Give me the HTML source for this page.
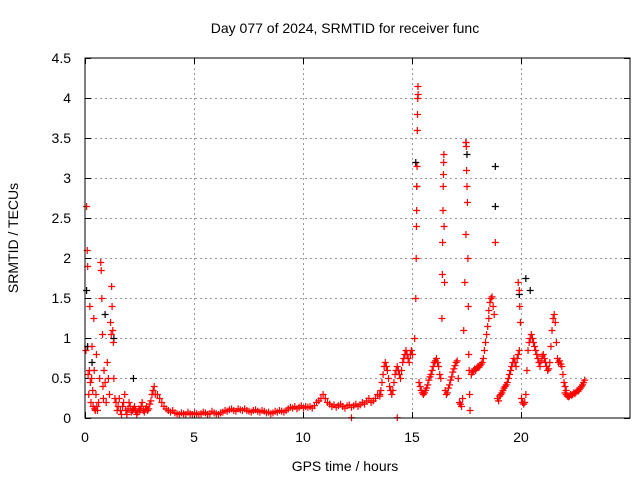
<!DOCTYPE html>
<html><head><meta charset="utf-8"><style>
body{margin:0;background:#fff}
svg text{font-family:"Liberation Sans",sans-serif;font-size:14px;fill:#000}
</style></head><body>
<svg id="chart" width="640" height="480">
<text x="345" y="33" text-anchor="middle">Day 077 of 2024, SRMTID for receiver func</text>
<text x="345" y="471" text-anchor="middle">GPS time / hours</text>
<text transform="translate(18,238) rotate(-90)" text-anchor="middle">SRMTID / TECUs</text>
<g id="grid"></g>
<g id="ticks"></g>
<g id="black"></g>
<g id="red"></g>
<rect x="85" y="58" width="545" height="360" fill="none" stroke="#000" stroke-width="1"/>
</svg>
<script>
const xTicks=[0,5,10,15,20];
const yTicks=[0,0.5,1,1.5,2,2.5,3,3.5,4,4.5];
const yTickLabels=["0","0.5","1","1.5","2","2.5","3","3.5","4","4.5"];
const hours=[0.02,0.05,0.08,0.1,0.12,0.15,0.18,0.2,0.22,0.25,0.28,0.3,0.33,0.35,0.38,0.4,0.42,0.45,0.48,0.5,0.52,0.55,0.6,0.65,0.7,0.72,0.75,0.78,0.8,0.82,0.85,0.9,0.95,1.0,1.05,1.1,1.15,1.18,1.2,1.22,1.25,1.28,1.3,1.35,15.1,15.15,15.17,15.18,15.19,15.2,15.21,15.22,15.23,15.24,15.25,15.26,16.35,16.37,16.38,16.4,16.41,16.42,16.43,16.44,16.45,16.47,17.35,17.4,17.45,17.46,17.47,17.48,17.5,17.52,17.54,17.56,17.58,17.6,17.62,17.64,18.8,19.85,19.9,19.92,19.95,12.2,14.3];
const tec=[0.85,2.65,2.1,1.9,0.55,0.3,0.6,1.4,0.45,0.2,0.5,0.9,0.35,0.15,1.25,0.6,0.12,0.1,0.3,0.8,0.15,0.1,0.2,0.5,1.95,1.85,1.5,1.05,0.4,0.25,0.6,0.45,0.2,0.7,0.5,0.3,1.2,1.05,1.65,1.4,1.1,0.95,0.5,0.25,1.0,1.5,2.0,2.4,2.6,2.9,3.15,3.6,3.8,4.0,4.15,4.05,1.25,1.8,2.2,2.6,2.9,3.05,3.2,3.3,2.4,1.7,1.1,1.7,2.3,3.45,3.4,3.1,2.9,2.7,2.0,1.4,0.8,0.6,0.3,0.1,2.2,1.7,1.6,1.4,1.2,0.01,0.01];
const segStarts=[1.4,3.3,13.5,15.3,16.5,17.7,18.5,18.9,20.0,21.05,22.0];
const segSteps=[0.05,0.1,0.05,0.05,0.05,0.05,0.05,0.05,0.05,0.05,0.05];
const segValues=[
[0.2,0.1,0.15,0.25,0.1,0.05,0.15,0.2,0.3,0.1,0.05,0.12,0.2,0.15,0.08,0.1,0.12,0.15,0.1,0.05,0.08,0.12,0.1,0.15,0.2,0.1,0.08,0.12,0.15,0.1,0.12,0.18,0.22,0.3,0.35,0.4,0.3],
[0.3,0.25,0.2,0.15,0.12,0.1,0.08,0.1,0.07,0.06,0.05,0.07,0.06,0.05,0.08,0.06,0.05,0.07,0.06,0.05,0.06,0.08,0.07,0.05,0.06,0.09,0.07,0.06,0.05,0.07,0.08,0.1,0.09,0.11,0.12,0.1,0.09,0.12,0.11,0.1,0.12,0.1,0.09,0.08,0.1,0.11,0.09,0.08,0.1,0.09,0.07,0.08,0.06,0.07,0.09,0.08,0.1,0.09,0.08,0.1,0.12,0.14,0.13,0.15,0.12,0.14,0.16,0.13,0.15,0.14,0.15,0.13,0.16,0.2,0.22,0.25,0.3,0.25,0.2,0.18,0.15,0.17,0.14,0.16,0.18,0.15,0.13,0.16,0.17,0.14,0.16,0.18,0.15,0.17,0.2,0.18,0.22,0.25,0.2,0.22,0.25,0.3,0.28],
[0.3,0.35,0.45,0.55,0.65,0.7,0.65,0.6,0.5,0.4,0.35,0.3,0.35,0.45,0.55,0.6,0.65,0.6,0.55,0.5,0.6,0.7,0.75,0.8,0.85,0.8,0.75,0.7,0.8,0.85,0.8],
[0.45,0.4,0.35,0.32,0.3,0.32,0.35,0.38,0.42,0.48,0.52,0.55,0.6,0.65,0.7,0.72,0.75,0.7,0.65,0.55,0.5],
[0.35,0.3,0.32,0.38,0.42,0.48,0.52,0.58,0.62,0.66,0.7,0.72,0.5,0.2,0.18,0.15,0.25],
[0.55,0.58,0.6,0.62,0.6,0.63,0.65,0.64,0.66,0.68,0.7,0.75,0.85,0.95,1.05,1.15,1.25],
[1.35,1.45,1.5,1.52,1.4,1.3],
[0.25,0.22,0.28,0.3,0.32,0.35,0.38,0.4,0.42,0.45,0.5,0.55,0.6,0.65,0.7,0.75,0.7,0.65,0.75,0.8,0.85],
[0.25,0.2,0.18,0.2,0.3,0.6,0.85,0.95,1.0,1.05,1.0,0.95,0.9,0.85,0.8,0.75,0.7,0.65,0.72,0.78,0.8],
[0.75,0.7,0.65,0.6,0.62,0.7,0.9,1.1,1.25,1.3,1.2,0.95,0.75,0.7,0.72,0.68,0.65,0.55,0.45,0.4,0.35],
[0.32,0.3,0.28,0.27,0.28,0.3,0.29,0.3,0.32,0.31,0.33,0.35,0.34,0.36,0.38,0.4,0.42,0.45,0.48]];
const blackHours=[0.05,0.1,0.3,0.9,1.3,2.2,15.15,15.2,17.45,17.5,18.8,18.8,19.9,20.2,20.4];
const blackTec=[1.6,0.9,0.7,1.3,1.0,0.5,3.2,2.9,3.45,3.3,3.15,2.65,1.55,1.75,1.6];
const X=h=>85+h*545/25, Y=v=>418-v*80;
const NS="http://www.w3.org/2000/svg";
const grid=document.getElementById('grid'),ticks=document.getElementById('ticks');
function line(g,x1,y1,x2,y2,st,dash){const l=document.createElementNS(NS,'line');l.setAttribute('x1',x1);l.setAttribute('y1',y1);l.setAttribute('x2',x2);l.setAttribute('y2',y2);l.setAttribute('stroke',st);if(dash)l.setAttribute('stroke-dasharray',dash);g.appendChild(l);return l;}
function txt(x,y,s,a){const t=document.createElementNS(NS,'text');t.setAttribute('x',x);t.setAttribute('y',y);t.setAttribute('text-anchor',a);t.textContent=s;ticks.appendChild(t);return t;}
xTicks.forEach(v=>{const x=X(v)+0.5;
 if(v>0){const g=line(grid,x,58,x,418,'#999','2,3');}
 line(ticks,x,418,x,412,'#000');line(ticks,x,58,x,64,'#000');
 const t=txt(X(v),442,String(v),'middle');
 
 });
yTicks.forEach((v,i)=>{const y=Y(v)+0.5;
 if(v>0&&v<4.5){const g=line(grid,85,y,630,y,'#999','2,3');}
 line(ticks,85,y,91,y,'#000');line(ticks,630,y,624,y,'#000');
 const t=txt(71,Y(v)+5,yTickLabels[i],'end');
 
 });
function plus(g,h,v,c){const p=document.createElementNS(NS,'path');const x=X(h)+0.5,y=Y(v)+0.5;
 p.setAttribute('d',`M${x-3.5} ${y}H${x+3.5}M${x} ${y-3.5}V${y+3.5}`);p.setAttribute('stroke',c);p.setAttribute('stroke-width','1.2');
 
 
 g.appendChild(p);}
const bg=document.getElementById('black'),rg=document.getElementById('red');
blackHours.forEach((h,i)=>plus(bg,h,blackTec[i],'#000'));
hours.forEach((h,i)=>{if(i<tec.length)plus(rg,h,tec[i],'#f00');});
segValues.forEach((vals,s)=>vals.forEach((v,j)=>plus(rg,segStarts[s]+j*segSteps[s],v,'#f00')));
</script>
</body></html>
